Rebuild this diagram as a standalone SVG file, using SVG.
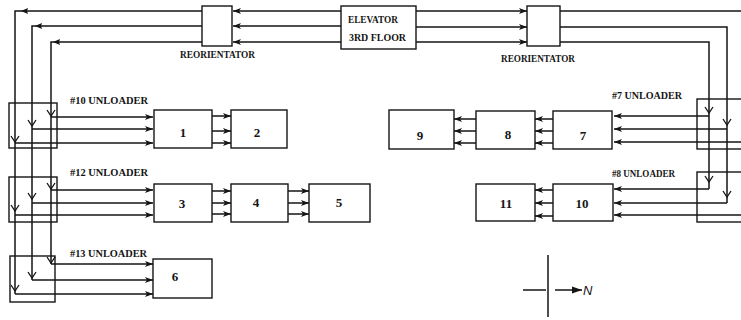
<svg xmlns="http://www.w3.org/2000/svg" width="741" height="320" viewBox="0 0 741 320">
<defs>
<marker id="ah" viewBox="0 0 8 8" refX="8" refY="4" markerWidth="8" markerHeight="8" markerUnits="userSpaceOnUse" orient="auto">
<path d="M0,1 L8,4 L0,7 L2,4 Z" fill="#151515"/>
</marker>
<marker id="ahN" viewBox="0 0 10 8" refX="10" refY="4" markerWidth="10" markerHeight="8" markerUnits="userSpaceOnUse" orient="auto">
<path d="M0,0.5 L10,4 L0,7.5 Z" fill="#151515"/>
</marker>
</defs>
<style>
rect{fill:#fff;stroke:#151515;stroke-width:1.4}
.ln{fill:none;stroke:#151515;stroke-width:1.5}
.a{fill:none;stroke:#151515;stroke-width:1.5;marker-end:url(#ah)}
.v{fill:none;stroke:#151515;stroke-width:1.3}
.t{font-family:"Liberation Serif",serif;font-size:10px;font-weight:bold;fill:#151515}
.n{font-family:"Liberation Serif",serif;font-size:13px;font-weight:bold;fill:#151515;text-anchor:middle}
</style>
<rect x="0" y="0" width="741" height="320" style="fill:#fff;stroke:none"/>

<g id="connectors">
<!-- left network -->
<path class="ln" d="M202,11 H15 V294"/>
<path class="ln" d="M202,26 H32 V280"/>
<path class="ln" d="M202,42 H51 V264"/>
<path d="M21,11 L28,8 L27,11 L28,14 Z M35,26 L42,23 L41,26 L42,29 Z M53,42 L60,39 L59,42 L60,45 Z" fill="#151515"/>
<path class="a" d="M15,143 H153"/>
<path class="a" d="M32,129 H153"/>
<path class="a" d="M51,117 H153"/>
<path class="a" d="M51,190 H153"/>
<path class="a" d="M32,203 H153"/>
<path class="a" d="M15,215 H153"/>
<path class="a" d="M51,264 H153"/>
<path class="a" d="M32,280 H153"/>
<path class="a" d="M15,294 H153"/>
<path class="v" d="M47,110 L51,116 L55,110 M28,120 L32,126 L36,120 M11,136 L15,142 L19,136"/>
<path class="v" d="M47,183 L51,189 L55,183 M28,193 L32,199 L36,193 M11,205 L15,211 L19,205"/>
<path class="v" d="M47,257 L51,263 L55,257 M28,272 L32,278 L36,272 M11,285 L15,291 L19,285"/>
<!-- elevator to reorientators -->
<path class="a" d="M341,11 H233"/>
<path class="a" d="M341,26 H233"/>
<path class="a" d="M341,42 H233"/>
<path class="a" d="M416,11 H527"/>
<path class="a" d="M416,27 H527"/>
<path class="a" d="M416,42 H527"/>
<!-- right network -->
<path class="ln" d="M560,11 H741"/>
<path class="ln" d="M560,27 H727 V203"/>
<path class="ln" d="M560,42 H709 V189"/>
<path class="a" d="M709,116 H614"/>
<path class="a" d="M727,129 H614"/>
<path class="a" d="M741,142 H614"/>
<path class="a" d="M709,189 H614"/>
<path class="a" d="M727,203 H614"/>
<path class="a" d="M741,215 H614"/>
<path class="v" d="M705,107 L709,113 L713,107 M723,119 L727,125 L731,119"/>
<path class="v" d="M705,176 L709,182 L713,176 M723,191 L727,197 L731,191"/>
<!-- between boxes, left -->
<path class="a" d="M212,116 H231"/>
<path class="a" d="M212,131 H231"/>
<path class="a" d="M212,143 H231"/>
<path class="a" d="M212,191 H231"/>
<path class="a" d="M212,203 H231"/>
<path class="a" d="M212,214 H231"/>
<path class="a" d="M288,191 H309"/>
<path class="a" d="M288,203 H309"/>
<path class="a" d="M288,214 H309"/>
<!-- between boxes, right -->
<path class="a" d="M553,119 H535"/>
<path class="a" d="M553,131 H535"/>
<path class="a" d="M553,143 H535"/>
<path class="a" d="M476,119 H454"/>
<path class="a" d="M476,131 H454"/>
<path class="a" d="M476,143 H454"/>
<path class="a" d="M553,190 H535"/>
<path class="a" d="M553,203 H535"/>
<path class="a" d="M553,216 H535"/>
</g>

<g id="reorientator-left"><rect x="202" y="6" width="30" height="40"/><text class="t" x="180" y="58" textLength="75" lengthAdjust="spacingAndGlyphs">REORIENTATOR</text></g>
<g id="elevator"><rect x="341" y="6" width="75" height="43"/><text class="t" x="348" y="23" textLength="50" lengthAdjust="spacingAndGlyphs">ELEVATOR</text><text class="t" x="349" y="41" textLength="57" lengthAdjust="spacingAndGlyphs">3RD FLOOR</text></g>
<g id="reorientator-right"><rect x="527" y="6" width="33" height="40"/><text class="t" x="501" y="62" textLength="74" lengthAdjust="spacingAndGlyphs">REORIENTATOR</text></g>

<g id="unloader-10"><rect x="9" y="103" width="48" height="45" style="fill:none"/><text class="t" x="70" y="104" textLength="78" lengthAdjust="spacingAndGlyphs">#10 UNLOADER</text></g>
<g id="unloader-12"><rect x="9" y="177" width="48" height="45" style="fill:none"/><text class="t" x="70" y="176" textLength="78" lengthAdjust="spacingAndGlyphs">#12 UNLOADER</text></g>
<g id="unloader-13"><rect x="10" y="256" width="45" height="46" style="fill:none"/><text class="t" x="70" y="257" textLength="77" lengthAdjust="spacingAndGlyphs">#13 UNLOADER</text></g>
<g id="unloader-7"><rect x="697" y="99" width="60" height="50" style="fill:none"/><text class="t" x="612" y="99" textLength="70" lengthAdjust="spacingAndGlyphs">#7 UNLOADER</text></g>
<g id="unloader-8"><rect x="697" y="172" width="60" height="50" style="fill:none"/><text class="t" x="612" y="177" textLength="63" lengthAdjust="spacingAndGlyphs">#8 UNLOADER</text></g>

<g id="box-1"><rect x="154" y="110" width="58" height="38"/><text class="n" x="183" y="137">1</text></g>
<g id="box-2"><rect x="231" y="110" width="56" height="38"/><text class="n" x="257" y="137">2</text></g>
<g id="box-3"><rect x="154" y="184" width="58" height="38"/><text class="n" x="182" y="208">3</text></g>
<g id="box-4"><rect x="231" y="184" width="57" height="38"/><text class="n" x="256" y="207">4</text></g>
<g id="box-5"><rect x="309" y="184" width="61" height="38"/><text class="n" x="339" y="207">5</text></g>
<g id="box-6"><rect x="153" y="259" width="59" height="39"/><text class="n" x="175" y="281">6</text></g>
<g id="box-7"><rect x="553" y="111" width="59" height="38"/><text class="n" x="583" y="140">7</text></g>
<g id="box-8"><rect x="476" y="111" width="59" height="38"/><text class="n" x="508" y="139">8</text></g>
<g id="box-9"><rect x="389" y="110" width="65" height="39"/><text class="n" x="420" y="140">9</text></g>
<g id="box-10"><rect x="553" y="184" width="60" height="37"/><text class="n" x="582" y="208">10</text></g>
<g id="box-11"><rect x="476" y="184" width="59" height="37"/><text class="n" x="506" y="208">11</text></g>

<g id="compass">
<path class="ln" d="M548,255 V317 M523,290 H546"/>
<path class="ln" d="M555,290 H582" style="marker-end:url(#ahN)"/>
<text x="583" y="295" style="font-family:'Liberation Sans',sans-serif;font-size:13px;font-style:italic;fill:#151515">N</text>
</g>
</svg>
